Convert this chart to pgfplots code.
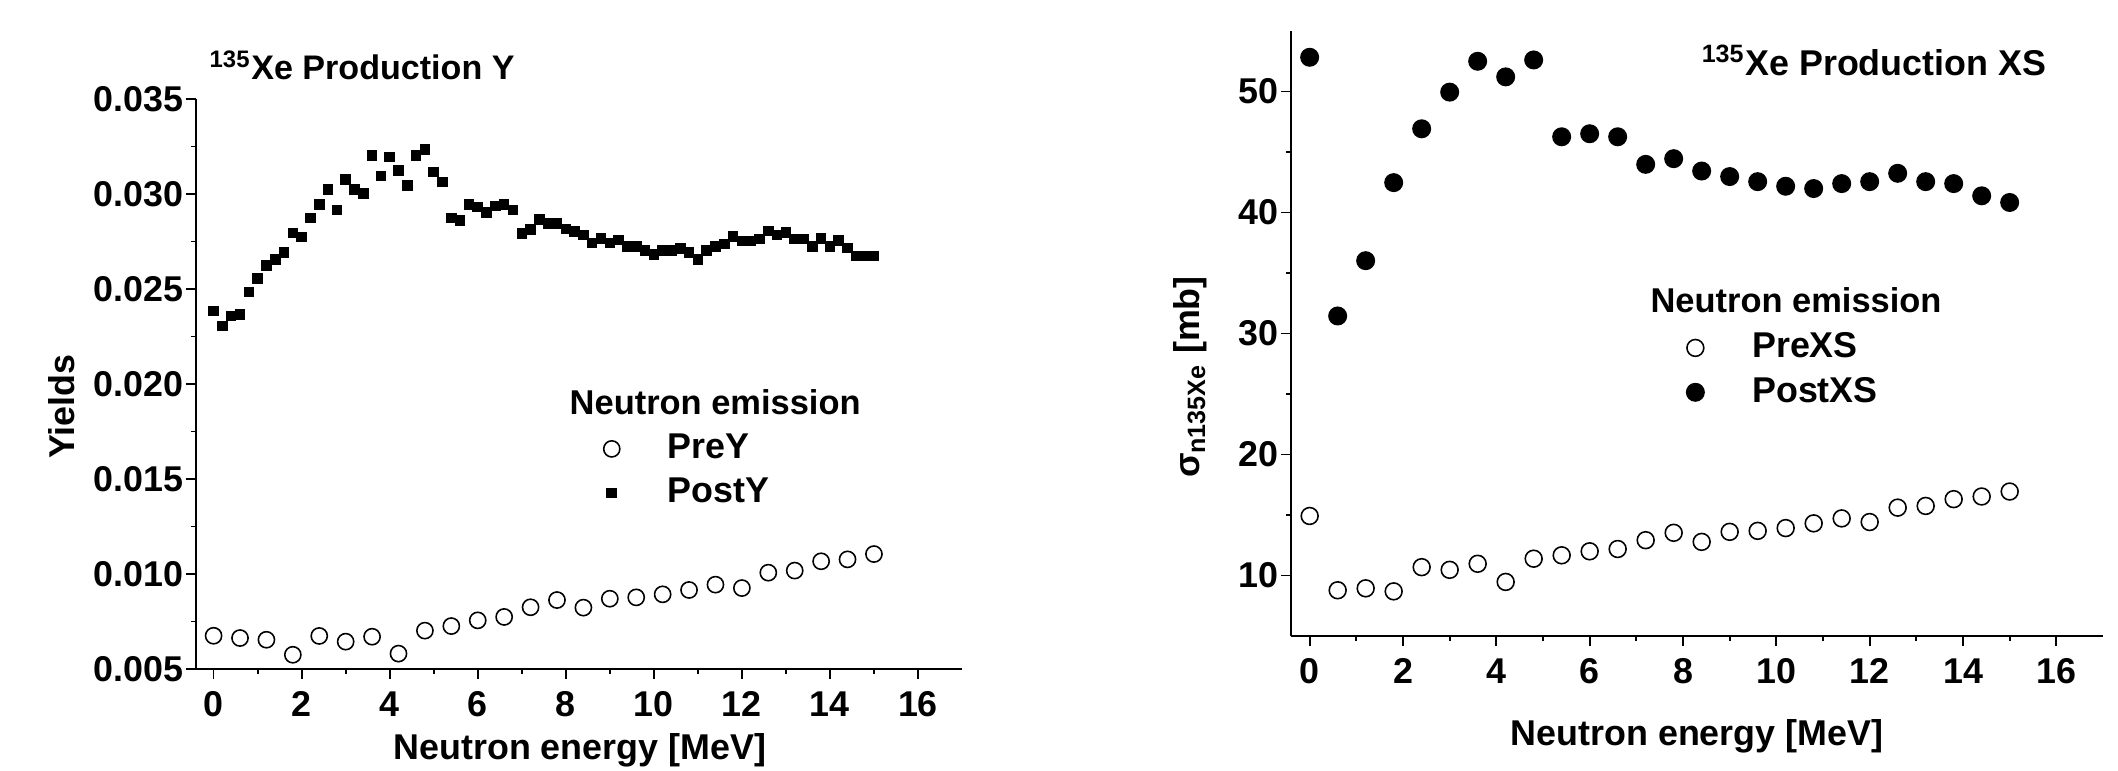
\documentclass[border=0pt]{standalone}
\usepackage{fontspec}
\setmainfont{Liberation Sans}
\usepackage{pgfplots}
\pgfplotsset{compat=1.18}
\newcommand{\lf}{\bfseries\fontsize{10.2}{12}\selectfont}
\newcommand{\lft}{\bfseries\fontsize{9.7}{12}\selectfont}
\newcommand{\lgt}{\bfseries\fontsize{9.8}{12}\selectfont}
\begin{document}
\begin{tikzpicture}
\path[use as bounding box] (0,0) rectangle (21.18cm,7.70cm);
\pgfplotsset{
  myax/.style={
    scale only axis, axis lines=left,
    axis line style={-, line width=0.5pt, black},
    tick align=outside, major tick length=0.1cm, minor tick length=0.05cm,
    every tick/.style={black, line width=0.5pt},
    xmin=-0.4, xmax=17, xtick={0,2,...,16}, minor x tick num=1,
    tick label style={font=\lf},
    yticklabel style={xshift=0.1cm},
    /pgf/number format/assume math mode=true,
    clip=false,
    legend style={draw=none, fill=none, inner sep=0pt, column sep=0.41cm, font=\lf},
    legend cell align=left,
  }
}
% ---------------- left axis
\begin{axis}[myax,
  at={(1.96cm,1.01cm)}, anchor=south west,
  width=7.66cm, height=5.70cm,
  ymin=0.005, ymax=0.035,
  ytick={0.005,0.010,0.015,0.020,0.025,0.030,0.035}, minor y tick num=1,
  scaled y ticks=false,
  yticklabel style={/pgf/number format/.cd, fixed, fixed zerofill, precision=3},
  title={\textsuperscript{135}Xe Production Y},
  title style={at={(axis description cs:0.017,0.9966)}, anchor=base west, yshift=0pt, font=\lft, inner sep=0pt},
  xlabel={Neutron energy [MeV]},
  xlabel style={at={(axis description cs:0.501,-0.142)}, anchor=center, font=\lf},
  ylabel={Yields},
  ylabel style={at={(axis description cs:-0.176,0.46)}, anchor=center, rotate=0, font=\lf},
  legend style={at={(axis description cs:0.5313,0.426)}, anchor=north west},
]
\addplot[only marks, mark=o, mark size=2.3pt, mark options={line width=0.45pt, black}] coordinates {
(0,0.00675) (0.6,0.00663) (1.2,0.00654) (1.8,0.00575) (2.4,0.00674) (3.0,0.00644)
(3.6,0.00670) (4.2,0.00581) (4.8,0.00702) (5.4,0.00726) (6.0,0.00756) (6.6,0.00774)
(7.2,0.00825) (7.8,0.00863) (8.4,0.00823) (9.0,0.00870) (9.6,0.00877) (10.2,0.00893)
(10.8,0.00916) (11.4,0.00944) (12.0,0.00926) (12.6,0.01007) (13.2,0.01018) (13.8,0.01067)
(14.4,0.01077) (15.0,0.01105)
};
\addlegendentry{PreY}
\addplot[only marks, mark=square*, mark size=1.3pt, mark options={black}] coordinates {
(0.0,0.02384) (0.2,0.02305) (0.4,0.02358) (0.6,0.02365) (0.8,0.02484) (1.0,0.02555)
(1.2,0.02625) (1.4,0.02655) (1.6,0.02693) (1.8,0.02795) (2.0,0.02774) (2.2,0.02874)
(2.4,0.02946) (2.6,0.03024) (2.8,0.02915) (3.0,0.03075) (3.2,0.03024) (3.4,0.03003)
(3.6,0.03203) (3.8,0.03094) (4.0,0.03196) (4.2,0.03124) (4.4,0.03045) (4.6,0.03203)
(4.8,0.03235) (5.0,0.03115) (5.2,0.03064) (5.4,0.02873) (5.6,0.02862) (5.8,0.02945)
(6.0,0.02932) (6.2,0.02902) (6.4,0.02936) (6.6,0.02946) (6.8,0.02917) (7.0,0.02793)
(7.2,0.02813) (7.4,0.02866) (7.6,0.02845) (7.8,0.02845) (8.0,0.02816) (8.2,0.02804)
(8.4,0.02785) (8.6,0.02743) (8.8,0.02765) (9.0,0.02743) (9.2,0.02757) (9.4,0.02725)
(9.6,0.02725) (9.8,0.02704) (10.0,0.02683) (10.2,0.02704) (10.4,0.02704) (10.6,0.02714)
(10.8,0.02693) (11.0,0.02655) (11.2,0.02704) (11.4,0.02723) (11.6,0.02736) (11.8,0.02776)
(12.0,0.02753) (12.2,0.02753) (12.4,0.02764) (12.6,0.02806) (12.8,0.02785) (13.0,0.02797)
(13.2,0.02764) (13.4,0.02764) (13.6,0.02725) (13.8,0.02767) (14.0,0.02725) (14.2,0.02755)
(14.4,0.02716) (14.6,0.02674) (14.8,0.02674) (15.0,0.02674)
};
\addlegendentry{PostY}
\node[anchor=base west, font=\lgt, inner sep=0pt] at (axis description cs:0.487,0.447) {Neutron emission};
\end{axis}
% ---------------- right axis
\begin{axis}[myax,
  at={(12.91cm,1.34cm)}, anchor=south west,
  width=8.12cm, height=6.05cm,
  ymin=5, ymax=55,
  ytick={10,20,30,40,50}, minor y tick num=1,
  title={\textsuperscript{135}Xe Production XS},
  title style={at={(axis description cs:0.505,0.892)}, anchor=base west, yshift=0pt, font=\lf, inner sep=0pt},
  xlabel={Neutron energy [MeV]},
  xlabel style={at={(axis description cs:0.5,-0.165)}, anchor=center, font=\lf},
  ylabel={σ\textsubscript{n135Xe} [mb]},
  ylabel style={at={(axis description cs:-0.124,0.428)}, anchor=center, rotate=0, font=\lf},
  legend style={at={(axis description cs:0.4863,0.514)}, anchor=north west},
]
\addplot[only marks, mark=o, mark size=2.4pt, mark options={line width=0.45pt, black}] coordinates {
(0,14.92) (0.6,8.78) (1.2,8.94) (1.8,8.69) (2.4,10.69) (3.0,10.47) (3.6,10.97) (4.2,9.47)
(4.8,11.39) (5.4,11.67) (6.0,12.00) (6.6,12.19) (7.2,12.92) (7.8,13.53) (8.4,12.78)
(9.0,13.61) (9.6,13.69) (10.2,13.92) (10.8,14.31) (11.4,14.72) (12.0,14.42) (12.6,15.61)
(13.2,15.75) (13.8,16.31) (14.4,16.53) (15.0,16.94)
};
\addlegendentry{PreXS}
\addplot[only marks, mark=*, mark size=2.5pt, mark options={black}] coordinates {
(0,52.83) (0.6,31.45) (1.2,36.02) (1.8,42.47) (2.4,46.92) (3.0,49.95) (3.6,52.50) (4.2,51.21)
(4.8,52.61) (5.4,46.26) (6.0,46.51) (6.6,46.26) (7.2,43.98) (7.8,44.45) (8.4,43.43)
(9.0,42.97) (9.6,42.55) (10.2,42.17) (10.8,41.98) (11.4,42.39) (12.0,42.55) (12.6,43.24)
(13.2,42.55) (13.8,42.39) (14.4,41.38) (15.0,40.83)
};
\addlegendentry{PostXS}
\node[anchor=base west, font=\lgt, inner sep=0pt] at (axis description cs:0.442,0.5355) {Neutron emission};
\end{axis}
\end{tikzpicture}
\end{document}
